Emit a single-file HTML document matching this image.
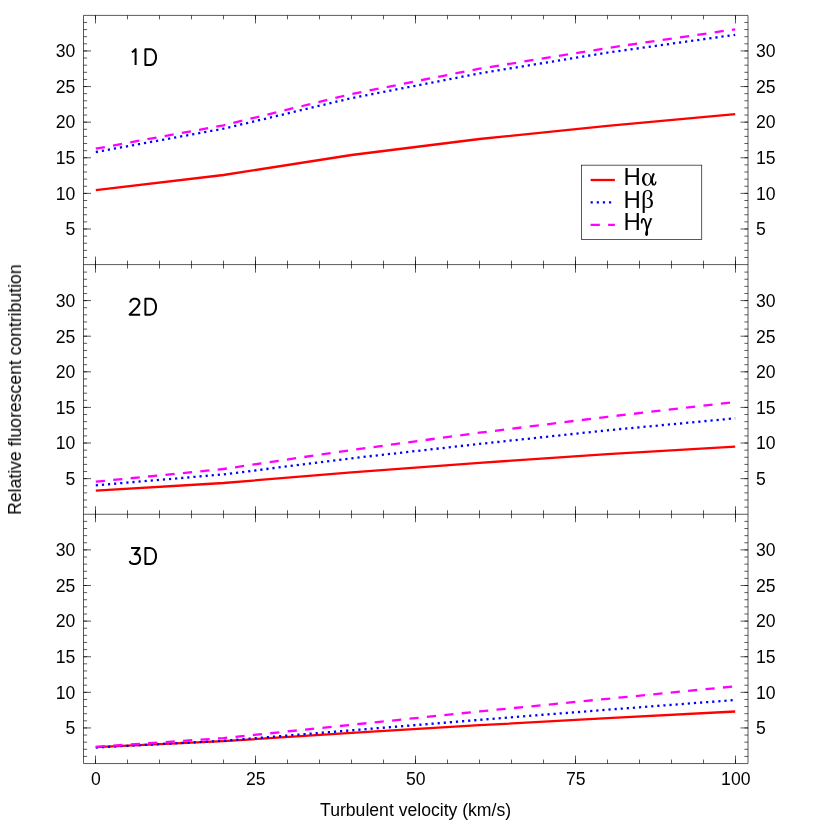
<!DOCTYPE html>
<html><head><meta charset="utf-8"><title>Relative fluorescent contribution</title>
<style>
html,body{margin:0;padding:0;background:#fff;}
body{width:830px;height:830px;position:relative;overflow:hidden;font-family:"Liberation Sans",sans-serif;}
</style></head><body>
<svg width="830" height="830" viewBox="0 0 830 830" style="position:absolute;left:0;top:0">
<rect width="830" height="830" fill="#fff"/>
<polyline points="95.8,190.2 223.5,175.0 351.5,155.0 479.5,139.0 607.5,125.8 735.2,114.2" fill="none" stroke="#ff0000" stroke-width="2.3"/>
<polyline points="95.8,152.0 223.5,128.7 351.5,98.1 479.5,73.4 607.5,52.6 735.2,34.8" fill="none" stroke="#0000ff" stroke-width="2.3" stroke-dasharray="2.2 3.92"/>
<polyline points="95.8,148.7 223.5,125.3 351.5,94.0 479.5,68.7 607.5,48.0 735.2,29.3" fill="none" stroke="#ff00ff" stroke-width="2.3" stroke-dasharray="9.2 8.3"/>
<polyline points="95.8,490.7 223.5,483.0 351.5,472.3 479.5,462.8 607.5,454.2 735.2,446.7" fill="none" stroke="#ff0000" stroke-width="2.3"/>
<polyline points="95.8,485.3 223.5,474.4 351.5,458.3 479.5,443.9 607.5,430.3 735.2,418.3" fill="none" stroke="#0000ff" stroke-width="2.3" stroke-dasharray="2.2 3.92"/>
<polyline points="95.8,481.7 223.5,469.0 351.5,450.0 479.5,432.7 607.5,416.8 735.2,402.0" fill="none" stroke="#ff00ff" stroke-width="2.3" stroke-dasharray="9.2 8.3"/>
<polyline points="95.8,747.2 223.5,741.2 351.5,732.8 479.5,725.2 607.5,718.2 735.2,711.5" fill="none" stroke="#ff0000" stroke-width="2.3"/>
<polyline points="95.8,747.5 223.5,740.8 351.5,730.3 479.5,719.8 607.5,709.7 735.2,700.0" fill="none" stroke="#0000ff" stroke-width="2.3" stroke-dasharray="2.2 3.92"/>
<polyline points="95.8,746.8 223.5,738.1 351.5,724.8 479.5,711.4 607.5,698.8 735.2,686.3" fill="none" stroke="#ff00ff" stroke-width="2.3" stroke-dasharray="9.2 8.3"/>
<path d="M83.5,15.4H748.0V763.55H83.5ZM83.5,264.6H748.0M83.5,514.25H748.0" fill="none" stroke="#000" stroke-width="0.65"/>
<path d="M95.5,15.4v4M95.5,763.55v-4M95.5,260.6v8M95.5,510.25v8M127.5,15.4v4M127.5,763.55v-4M127.5,260.6v8M127.5,510.25v8M159.5,15.4v4M159.5,763.55v-4M159.5,260.6v8M159.5,510.25v8M191.5,15.4v4M191.5,763.55v-4M191.5,260.6v8M191.5,510.25v8M223.5,15.4v4M223.5,763.55v-4M223.5,260.6v8M223.5,510.25v8M255.5,15.4v4M255.5,763.55v-4M255.5,260.6v8M255.5,510.25v8M287.5,15.4v4M287.5,763.55v-4M287.5,260.6v8M287.5,510.25v8M319.5,15.4v4M319.5,763.55v-4M319.5,260.6v8M319.5,510.25v8M351.5,15.4v4M351.5,763.55v-4M351.5,260.6v8M351.5,510.25v8M383.5,15.4v4M383.5,763.55v-4M383.5,260.6v8M383.5,510.25v8M415.5,15.4v4M415.5,763.55v-4M415.5,260.6v8M415.5,510.25v8M447.5,15.4v4M447.5,763.55v-4M447.5,260.6v8M447.5,510.25v8M479.5,15.4v4M479.5,763.55v-4M479.5,260.6v8M479.5,510.25v8M511.5,15.4v4M511.5,763.55v-4M511.5,260.6v8M511.5,510.25v8M543.5,15.4v4M543.5,763.55v-4M543.5,260.6v8M543.5,510.25v8M575.5,15.4v4M575.5,763.55v-4M575.5,260.6v8M575.5,510.25v8M607.5,15.4v4M607.5,763.55v-4M607.5,260.6v8M607.5,510.25v8M639.5,15.4v4M639.5,763.55v-4M639.5,260.6v8M639.5,510.25v8M671.5,15.4v4M671.5,763.55v-4M671.5,260.6v8M671.5,510.25v8M703.5,15.4v4M703.5,763.55v-4M703.5,260.6v8M703.5,510.25v8M735.5,15.4v4M735.5,763.55v-4M735.5,260.6v8M735.5,510.25v8M83.5,257.48h3.6M748.0,257.48h-3.6M83.5,250.36h3.6M748.0,250.36h-3.6M83.5,243.23h3.6M748.0,243.23h-3.6M83.5,236.11h3.6M748.0,236.11h-3.6M83.5,228.99h3.6M748.0,228.99h-3.6M83.5,221.87h3.6M748.0,221.87h-3.6M83.5,214.75h3.6M748.0,214.75h-3.6M83.5,207.62h3.6M748.0,207.62h-3.6M83.5,200.50h3.6M748.0,200.50h-3.6M83.5,193.38h3.6M748.0,193.38h-3.6M83.5,186.26h3.6M748.0,186.26h-3.6M83.5,179.14h3.6M748.0,179.14h-3.6M83.5,172.01h3.6M748.0,172.01h-3.6M83.5,164.89h3.6M748.0,164.89h-3.6M83.5,157.77h3.6M748.0,157.77h-3.6M83.5,150.65h3.6M748.0,150.65h-3.6M83.5,143.53h3.6M748.0,143.53h-3.6M83.5,136.40h3.6M748.0,136.40h-3.6M83.5,129.28h3.6M748.0,129.28h-3.6M83.5,122.16h3.6M748.0,122.16h-3.6M83.5,115.04h3.6M748.0,115.04h-3.6M83.5,107.92h3.6M748.0,107.92h-3.6M83.5,100.79h3.6M748.0,100.79h-3.6M83.5,93.67h3.6M748.0,93.67h-3.6M83.5,86.55h3.6M748.0,86.55h-3.6M83.5,79.43h3.6M748.0,79.43h-3.6M83.5,72.31h3.6M748.0,72.31h-3.6M83.5,65.18h3.6M748.0,65.18h-3.6M83.5,58.06h3.6M748.0,58.06h-3.6M83.5,50.94h3.6M748.0,50.94h-3.6M83.5,43.82h3.6M748.0,43.82h-3.6M83.5,36.70h3.6M748.0,36.70h-3.6M83.5,29.57h3.6M748.0,29.57h-3.6M83.5,22.45h3.6M748.0,22.45h-3.6M83.5,507.13h3.6M748.0,507.13h-3.6M83.5,500.01h3.6M748.0,500.01h-3.6M83.5,492.88h3.6M748.0,492.88h-3.6M83.5,485.76h3.6M748.0,485.76h-3.6M83.5,478.64h3.6M748.0,478.64h-3.6M83.5,471.52h3.6M748.0,471.52h-3.6M83.5,464.40h3.6M748.0,464.40h-3.6M83.5,457.27h3.6M748.0,457.27h-3.6M83.5,450.15h3.6M748.0,450.15h-3.6M83.5,443.03h3.6M748.0,443.03h-3.6M83.5,435.91h3.6M748.0,435.91h-3.6M83.5,428.79h3.6M748.0,428.79h-3.6M83.5,421.66h3.6M748.0,421.66h-3.6M83.5,414.54h3.6M748.0,414.54h-3.6M83.5,407.42h3.6M748.0,407.42h-3.6M83.5,400.30h3.6M748.0,400.30h-3.6M83.5,393.18h3.6M748.0,393.18h-3.6M83.5,386.05h3.6M748.0,386.05h-3.6M83.5,378.93h3.6M748.0,378.93h-3.6M83.5,371.81h3.6M748.0,371.81h-3.6M83.5,364.69h3.6M748.0,364.69h-3.6M83.5,357.57h3.6M748.0,357.57h-3.6M83.5,350.44h3.6M748.0,350.44h-3.6M83.5,343.32h3.6M748.0,343.32h-3.6M83.5,336.20h3.6M748.0,336.20h-3.6M83.5,329.08h3.6M748.0,329.08h-3.6M83.5,321.96h3.6M748.0,321.96h-3.6M83.5,314.83h3.6M748.0,314.83h-3.6M83.5,307.71h3.6M748.0,307.71h-3.6M83.5,300.59h3.6M748.0,300.59h-3.6M83.5,293.47h3.6M748.0,293.47h-3.6M83.5,286.35h3.6M748.0,286.35h-3.6M83.5,279.22h3.6M748.0,279.22h-3.6M83.5,272.10h3.6M748.0,272.10h-3.6M83.5,756.43h3.6M748.0,756.43h-3.6M83.5,749.31h3.6M748.0,749.31h-3.6M83.5,742.18h3.6M748.0,742.18h-3.6M83.5,735.06h3.6M748.0,735.06h-3.6M83.5,727.94h3.6M748.0,727.94h-3.6M83.5,720.82h3.6M748.0,720.82h-3.6M83.5,713.70h3.6M748.0,713.70h-3.6M83.5,706.57h3.6M748.0,706.57h-3.6M83.5,699.45h3.6M748.0,699.45h-3.6M83.5,692.33h3.6M748.0,692.33h-3.6M83.5,685.21h3.6M748.0,685.21h-3.6M83.5,678.09h3.6M748.0,678.09h-3.6M83.5,670.96h3.6M748.0,670.96h-3.6M83.5,663.84h3.6M748.0,663.84h-3.6M83.5,656.72h3.6M748.0,656.72h-3.6M83.5,649.60h3.6M748.0,649.60h-3.6M83.5,642.48h3.6M748.0,642.48h-3.6M83.5,635.35h3.6M748.0,635.35h-3.6M83.5,628.23h3.6M748.0,628.23h-3.6M83.5,621.11h3.6M748.0,621.11h-3.6M83.5,613.99h3.6M748.0,613.99h-3.6M83.5,606.87h3.6M748.0,606.87h-3.6M83.5,599.74h3.6M748.0,599.74h-3.6M83.5,592.62h3.6M748.0,592.62h-3.6M83.5,585.50h3.6M748.0,585.50h-3.6M83.5,578.38h3.6M748.0,578.38h-3.6M83.5,571.26h3.6M748.0,571.26h-3.6M83.5,564.13h3.6M748.0,564.13h-3.6M83.5,557.01h3.6M748.0,557.01h-3.6M83.5,549.89h3.6M748.0,549.89h-3.6M83.5,542.77h3.6M748.0,542.77h-3.6M83.5,535.65h3.6M748.0,535.65h-3.6M83.5,528.52h3.6M748.0,528.52h-3.6M83.5,521.40h3.6M748.0,521.40h-3.6" fill="none" stroke="#000" stroke-width="0.65"/>
<path d="M95.5,15.4v8M95.5,763.55v-8M95.5,256.6v16M95.5,506.25v16M255.5,15.4v8M255.5,763.55v-8M255.5,256.6v16M255.5,506.25v16M415.5,15.4v8M415.5,763.55v-8M415.5,256.6v16M415.5,506.25v16M575.5,15.4v8M575.5,763.55v-8M575.5,256.6v16M575.5,506.25v16M735.5,15.4v8M735.5,763.55v-8M735.5,256.6v16M735.5,506.25v16M83.5,228.99h7.5M748.0,228.99h-7.5M83.5,193.38h7.5M748.0,193.38h-7.5M83.5,157.77h7.5M748.0,157.77h-7.5M83.5,122.16h7.5M748.0,122.16h-7.5M83.5,86.55h7.5M748.0,86.55h-7.5M83.5,50.94h7.5M748.0,50.94h-7.5M83.5,478.64h7.5M748.0,478.64h-7.5M83.5,443.03h7.5M748.0,443.03h-7.5M83.5,407.42h7.5M748.0,407.42h-7.5M83.5,371.81h7.5M748.0,371.81h-7.5M83.5,336.20h7.5M748.0,336.20h-7.5M83.5,300.59h7.5M748.0,300.59h-7.5M83.5,727.94h7.5M748.0,727.94h-7.5M83.5,692.33h7.5M748.0,692.33h-7.5M83.5,656.72h7.5M748.0,656.72h-7.5M83.5,621.11h7.5M748.0,621.11h-7.5M83.5,585.50h7.5M748.0,585.50h-7.5M83.5,549.89h7.5M748.0,549.89h-7.5" fill="none" stroke="#000" stroke-width="0.65"/>
<g font-family="Liberation Sans, sans-serif" font-size="17.6" fill="#000" style="opacity:0.999">
<text x="75.3" y="235.29" text-anchor="end">5</text>
<text x="756.0" y="235.29">5</text>
<text x="75.3" y="199.68" text-anchor="end">10</text>
<text x="756.0" y="199.68">10</text>
<text x="75.3" y="164.07" text-anchor="end">15</text>
<text x="756.0" y="164.07">15</text>
<text x="75.3" y="128.46" text-anchor="end">20</text>
<text x="756.0" y="128.46">20</text>
<text x="75.3" y="92.85" text-anchor="end">25</text>
<text x="756.0" y="92.85">25</text>
<text x="75.3" y="57.24" text-anchor="end">30</text>
<text x="756.0" y="57.24">30</text>
<text x="75.3" y="484.94" text-anchor="end">5</text>
<text x="756.0" y="484.94">5</text>
<text x="75.3" y="449.33" text-anchor="end">10</text>
<text x="756.0" y="449.33">10</text>
<text x="75.3" y="413.72" text-anchor="end">15</text>
<text x="756.0" y="413.72">15</text>
<text x="75.3" y="378.11" text-anchor="end">20</text>
<text x="756.0" y="378.11">20</text>
<text x="75.3" y="342.50" text-anchor="end">25</text>
<text x="756.0" y="342.50">25</text>
<text x="75.3" y="306.89" text-anchor="end">30</text>
<text x="756.0" y="306.89">30</text>
<text x="75.3" y="734.24" text-anchor="end">5</text>
<text x="756.0" y="734.24">5</text>
<text x="75.3" y="698.63" text-anchor="end">10</text>
<text x="756.0" y="698.63">10</text>
<text x="75.3" y="663.02" text-anchor="end">15</text>
<text x="756.0" y="663.02">15</text>
<text x="75.3" y="627.41" text-anchor="end">20</text>
<text x="756.0" y="627.41">20</text>
<text x="75.3" y="591.80" text-anchor="end">25</text>
<text x="756.0" y="591.80">25</text>
<text x="75.3" y="556.19" text-anchor="end">30</text>
<text x="756.0" y="556.19">30</text>
<text x="95.8" y="784.6" text-anchor="middle">0</text>
<text x="255.8" y="784.6" text-anchor="middle">25</text>
<text x="415.8" y="784.6" text-anchor="middle">50</text>
<text x="575.8" y="784.6" text-anchor="middle">75</text>
<text x="735.8" y="784.6" text-anchor="middle">100</text>
<text x="415.6" y="815.6" text-anchor="middle">Turbulent velocity (km/s)</text>
<text transform="translate(21,389.6) rotate(-90)" text-anchor="middle">Relative fluorescent contribution</text>
</g>
<g transform="translate(127.3,65.00) scale(0.754,-0.754)" fill="none" stroke="#000" stroke-width="2.653" stroke-linecap="butt" stroke-linejoin="round">
<path d="M6,17L8,18L11,21L11,0"/><path transform="translate(20,0)" d="M4,0L4,21L11,21L14,20L16,18L17,16L18,13L18,8L17,5L16,3L14,1L11,0Z"/>
</g>
<g transform="translate(127.3,314.65) scale(0.754,-0.754)" fill="none" stroke="#000" stroke-width="2.653" stroke-linecap="butt" stroke-linejoin="round">
<path d="M4,16L4,17L5,19L6,20L8,21L12,21L14,20L15,19L16,17L16,15L15,13L13,10L3,0L17,0"/><path transform="translate(20,0)" d="M4,0L4,21L11,21L14,20L16,18L17,16L18,13L18,8L17,5L16,3L14,1L11,0Z"/>
</g>
<g transform="translate(127.3,563.95) scale(0.754,-0.754)" fill="none" stroke="#000" stroke-width="2.653" stroke-linecap="butt" stroke-linejoin="round">
<path d="M5,21L16,21L10,13L13,13L15,12L16,11L17,8L17,6L16,3L14,1L11,0L8,0L5,1L4,2L3,4"/><path transform="translate(20,0)" d="M4,0L4,21L11,21L14,20L16,18L17,16L18,13L18,8L17,5L16,3L14,1L11,0Z"/>
</g>
<rect x="581.6" y="165.15" width="120.15" height="74.30" fill="#fff" stroke="#000" stroke-width="0.65"/>
<path d="M590.6,180H614.9" stroke="#ff0000" stroke-width="2.3"/>
<path d="M590.6,202.4H614.9" stroke="#0000ff" stroke-width="2.3" stroke-dasharray="2.2 3.92"/>
<path d="M590.6,224.8H614.9" stroke="#ff00ff" stroke-width="2.3" stroke-dasharray="9.2 8.3"/>
<g font-family="Liberation Sans, sans-serif" font-size="24" fill="#000" style="opacity:0.999">
<text x="623.4" y="185.3">H</text>
<path fill-rule="evenodd" fill="#000" d="M641.95,179.45a4.85,6.42 0 1,0 9.7,0a4.85,6.42 0 1,0 -9.7,0ZM644.45,179.45a2.95,5.5 0 1,0 5.9,0a2.95,5.5 0 1,0 -5.9,0Z"/>
<path d="M653.9,173.3C653.0,175.5 651.9,177.8 651.85,179.6C651.8,181.6 652.4,184.0 653.6,184.8" fill="none" stroke="#000" stroke-width="2.1"/>
<path d="M653.2,184.6C654.4,185.5 655.6,184.2 655.85,181.9" fill="none" stroke="#000" stroke-width="1.3" stroke-linecap="round"/>
<text x="623.4" y="207.5">H</text>
<text transform="translate(641.1,208.20) scale(0.98,1)" font-family="Liberation Serif, serif" font-size="26.2">β</text>
<text x="623.4" y="230.1">H</text>
<path d="M641.65,222.7C641.6,220.6 642.2,219.0 643.4,218.95C644.6,218.9 645.4,220.9 646.0,223.4C646.4,225.2 646.8,227.4 646.85,229.2" fill="none" stroke="#000" stroke-width="1.75" stroke-linecap="round"/>
<path d="M651.0,218.9C650.2,221.0 648.4,225.6 646.9,229.6" fill="none" stroke="#000" stroke-width="1.65"/>
<path d="M649.7,218.2H652.2V219.3H649.9Z" fill="#000"/>
<path d="M646.95,227.4C646.3,229.5 645.3,231.9 645.1,233.6C645.0,235.0 645.6,236.0 646.5,236.0C647.5,236.0 648.1,235.0 648.1,233.6C648.1,232.0 647.8,229.8 647.45,228.0Z" fill="#000"/>
</g>
</svg>
</body></html>
